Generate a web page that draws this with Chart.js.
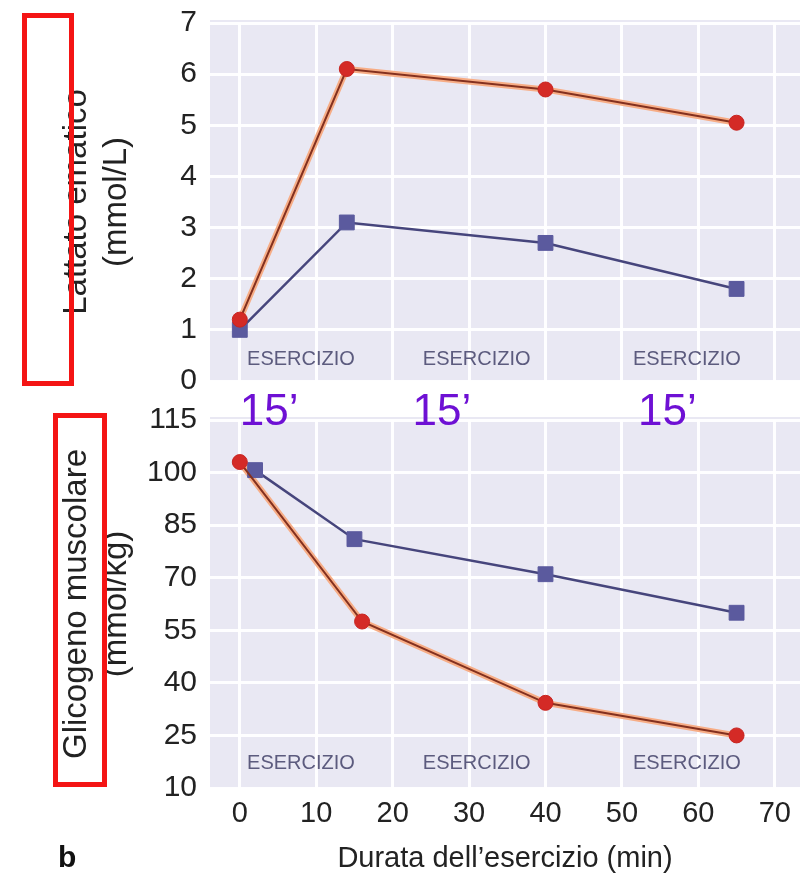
<!DOCTYPE html>
<html>
<head>
<meta charset="utf-8">
<script src="https://cdn.jsdelivr.net/npm/chart.js@4.4.1/dist/chart.umd.min.js"></script>
<style>
  body { margin: 0; background: #fff; }
  #wrap { position: relative; width: 805px; height: 879px; overflow: hidden; }
  canvas { position: absolute; left: 0; }
  #lattato { top: 0; }
  #glicogeno { top: 380px; }
  .box { position: absolute; border: 5px solid #f41414; box-sizing: border-box; }
</style>
</head>
<body>
<div id="wrap">
  <canvas id="lattato" width="805" height="400"></canvas>
  <canvas id="glicogeno" width="805" height="499"></canvas>
  <div class="box" style="left:22px;top:13px;width:52px;height:373px"></div>
  <div class="box" style="left:53px;top:413px;width:54px;height:374px"></div>
</div>
<script>
// minuti di esercizio
const xTicks = [0, 10, 20, 30, 40, 50, 60, 70];

// lattato ematico (mmol/L)
const lattatoTicks = [0, 1, 2, 3, 4, 5, 6, 7];
const lattatoRossoX = [0, 14, 40, 65];
const lattatoRosso = [1.2, 6.1, 5.7, 5.05];
const lattatoBluX = [0, 14, 40, 65];
const lattatoBlu = [1.0, 3.1, 2.7, 1.8];

// glicogeno muscolare (mmol/kg)
const glicogenoTicks = [10, 25, 40, 55, 70, 85, 100, 115];
const glicogenoRossoX = [0, 16, 40, 65];
const glicogenoRosso = [103, 57.5, 34.3, 25];
const glicogenoBluX = [2, 15, 40, 65];
const glicogenoBlu = [100.7, 81, 71, 60];

// etichette
const esercizioX = [8, 31, 58.5];
const quindiciX = [0, 22.6, 52.1];

const FONT = "'Liberation Sans', Arial, sans-serif";
const pts = (xs, ys) => xs.map((x, i) => ({ x: x, y: ys[i] }));

const sfondo = {
  id: "sfondo",
  beforeDraw(chart) {
    const a = chart.chartArea, c = chart.ctx;
    c.save();
    c.fillStyle = "#e9e8f3";
    c.fillRect(a.left, a.top - 3, a.right - a.left, a.bottom - a.top + 3);
    c.restore();
  }
};

function esercizio(yVal) {
  return {
    id: "esercizio",
    afterDatasetsDraw(chart) {
      const c = chart.ctx, xs = chart.scales.x, ys = chart.scales.y;
      c.save();
      c.font = "20px " + FONT;
      c.fillStyle = "#5c5b7e";
      c.textAlign = "center";
      c.textBaseline = "middle";
      esercizioX.forEach(v => c.fillText("ESERCIZIO", xs.getPixelForValue(v), ys.getPixelForValue(yVal)));
      c.restore();
    }
  };
}

function datasets(rx, ry, bx, by) {
  return [
    { data: pts(rx, ry), borderColor: "#83301f", borderWidth: 2,
      pointStyle: "circle", pointRadius: 7.5, pointBackgroundColor: "#d42a26",
      pointBorderColor: "#c82420", pointBorderWidth: 1 },
    { data: pts(bx, by), borderColor: "#46457c", borderWidth: 2.5,
      pointStyle: "rect", pointRadius: 10.5, pointBackgroundColor: "#5b5a9e",
      pointBorderColor: "#5b5a9e", pointBorderWidth: 1 },
    { data: pts(rx, ry), borderColor: "#f7ad86", borderWidth: 6, pointRadius: 0 }
  ];
}

const noPad = a => { a.paddingTop = 0; a.paddingBottom = 0; a.paddingLeft = 0; a.paddingRight = 0; };

function xAxis(showTicks) {
  return {
    type: "linear", min: -3.9, max: 73.3,
    afterBuildTicks: a => { a.ticks = xTicks.map(v => ({ value: v })); },
    afterFit: a => { a.height = showTicks ? 91 : 0; noPad(a); },
    border: { display: false },
    grid: { color: "rgba(255,255,255,0.95)", lineWidth: 3, drawTicks: false },
    ticks: { display: showTicks, color: "#222", padding: 9, font: { family: FONT, size: 29 } },
    title: { display: showTicks, text: "Durata dell’esercizio (min)", color: "#222",
      padding: { top: 0, bottom: 3 }, font: { family: FONT, size: 29 } }
  };
}

function yAxis(ticks, titolo) {
  return {
    min: ticks[0], max: ticks[ticks.length - 1],
    afterBuildTicks: a => { a.ticks = ticks.map(v => ({ value: v })); },
    afterFit: a => { a.width = 210; noPad(a); },
    border: { display: false },
    grid: { color: "rgba(255,255,255,0.95)", lineWidth: 3, drawTicks: false },
    ticks: { color: "#222", padding: 13, font: { family: FONT, size: 30 } },
    title: { display: true, text: titolo, color: "#222",
      padding: { top: 56, bottom: 0 }, font: { family: FONT, size: 33, lineHeight: 1.24 } }
  };
}

const base = {
  responsive: false,
  animation: false,
  plugins: { legend: { display: false }, tooltip: { enabled: false } },
  elements: { line: { tension: 0 } }
};

new Chart(document.getElementById("lattato"), {
  type: "line",
  data: { datasets: datasets(lattatoRossoX, lattatoRosso, lattatoBluX, lattatoBlu) },
  options: Object.assign({}, base, {
    layout: { autoPadding: false, padding: { top: 23, right: 5, bottom: 19, left: 0 } },
    scales: { x: xAxis(false), y: yAxis(lattatoTicks, ["Lattato ematico", "(mmol/L)"]) }
  }),
  plugins: [sfondo, esercizio(0.42)]
});

const etichette = {
  id: "etichette",
  afterDraw(chart) {
    const c = chart.ctx, xs = chart.scales.x;
    c.save();
    c.font = "44px " + FONT;
    c.fillStyle = "#6e10d4";
    c.textAlign = "left";
    c.textBaseline = "alphabetic";
    quindiciX.forEach(v => c.fillText("15’", xs.getPixelForValue(v), chart.chartArea.top + 5));
    c.font = "bold 30px " + FONT;
    c.fillStyle = "#111";
    c.fillText("b", 58, chart.height - 12);
    c.restore();
  }
};

new Chart(document.getElementById("glicogeno"), {
  type: "line",
  data: { datasets: datasets(glicogenoRossoX, glicogenoRosso, glicogenoBluX, glicogenoBlu) },
  options: Object.assign({}, base, {
    layout: { autoPadding: false, padding: { top: 40, right: 5, bottom: 0, left: 0 } },
    scales: { x: xAxis(true), y: yAxis(glicogenoTicks, ["Glicogeno muscolare", "(mmol/kg)"]) }
  }),
  plugins: [sfondo, esercizio(17.1), etichette]
});
</script>
</body>
</html>
